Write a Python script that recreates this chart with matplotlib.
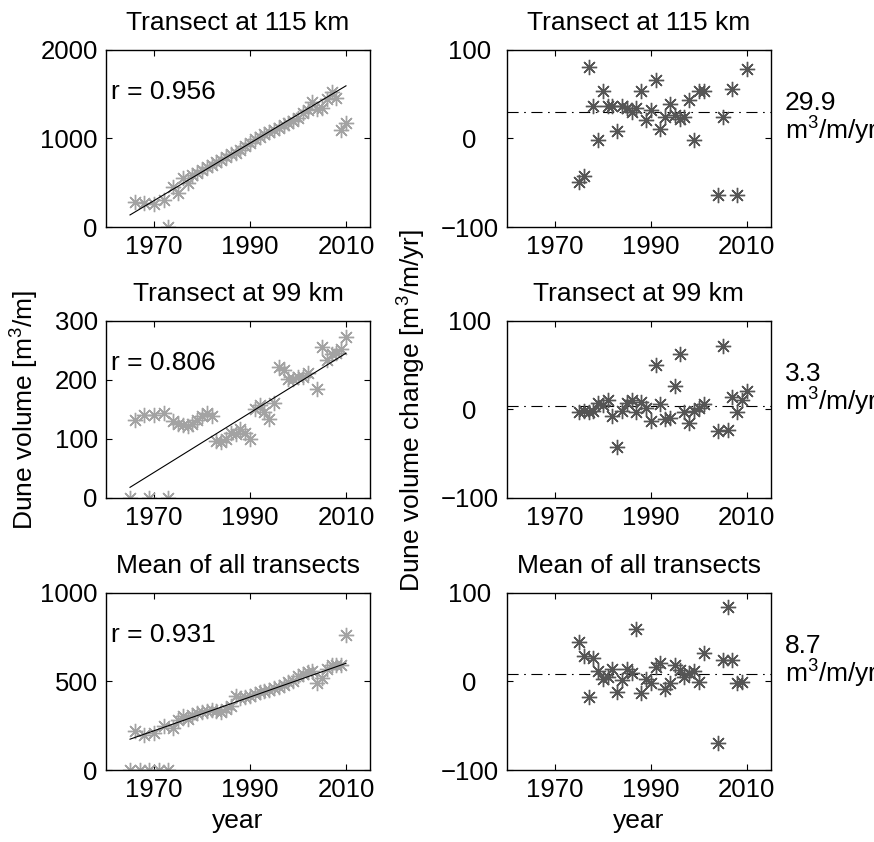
import matplotlib
matplotlib.use("Agg")
import matplotlib.pyplot as plt

plt.rcParams['font.family'] = ['Liberation Sans', 'DejaVu Sans']
plt.rcParams['font.size'] = 18.5
plt.rcParams['mathtext.default'] = 'regular'

# dune volume per transect [m3/m]
yrs_115 = [1966, 1968, 1970, 1972, 1973] + list(range(1974, 2011))
vol_115 = [286, 275, 260, 305, 0,
           455, 388, 550, 494, 590, 610, 640, 680, 700, 730, 760, 790, 820,
           840, 870, 910, 950, 990, 1020, 1050, 1070, 1100, 1120, 1150, 1170,
           1200, 1230, 1290, 1320, 1416, 1330, 1341, 1450, 1529, 1454, 1096, 1175]

yrs_99 = [1965, 1966, 1968, 1969, 1970, 1972, 1973] + list(range(1974, 2000)) \
    + [2000, 2001, 2002, 2004, 2005, 2006, 2007, 2008, 2009, 2010]
vol_99 = [0, 132, 141, 0, 140, 143, 0,
          130, 126, 124, 122, 126, 132, 139, 144, 139, 96, 94, 99, 110, 108,
          116, 110, 100, 150, 158, 146, 133, 160, 221, 217, 201, 201,
          204, 204, 212, 185, 256, 234, 243, 246, 252, 273]

yrs_mean = [1965, 1966, 1967, 1968, 1969, 1970, 1971, 1972, 1973] + list(range(1974, 2011))
vol_mean = [0, 218, 0, 199, 0, 208, 0, 246, 0,
            237, 284, 303, 290, 310, 320, 325, 335, 340, 335, 330, 345, 360,
            416, 405, 410, 420, 430, 440, 445, 450, 460, 470, 480, 495, 505,
            530, 540, 553, 560, 492, 520, 571, 590, 595, 590, 760]

# linear trend end points and correlation
trend_yrs = [1965, 2010]
trend_115 = [136, 1593]
trend_99 = [18, 245]
trend_mean = [174, 602]
r_vals = [0.956, 0.806, 0.931]

# yearly dune volume change [m3/m/yr]
dyrs_115 = list(range(1975, 2002)) + [2004, 2005, 2007, 2008, 2010]
dvol_115 = [-49, -42, 80, 36, -2, 54, 36, 37, 8, 36, 34, 30, 34, 54, 21,
            32, 66, 11, 24, 39, 26, 22, 24, 43, -2, 54, 54,
            -64, 24, 56, -64, 78]
dyrs_99 = list(range(1975, 2002)) + [2004, 2005, 2006, 2007, 2008, 2009, 2010]
dvol_99 = [-3, -2, -3, -2, 7, 5, 10, -7, -43, -2, 7, 10, -3, 8, 1, -13, 50,
           6, -11, -10, 26, 63, -3, -15, -2, 2, 6,
           -24, 71, -23, 14, -3, 10, 21]
dyrs_mean = list(range(1975, 2002)) + [2004, 2005, 2006, 2007, 2008, 2009]
dvol_mean = [44, 29, -18, 26, 12, 3, 5, 14, -12, 2, 14, 10, 59, -13, 3, -2,
             16, 21, -9, -2, 18, 13, 5, 10, 12, -1, 32,
             -70, 24, 84, 24, -2, -1]
mean_rates = [29.9, 3.3, 8.7]

titles = ['Transect at 115 km', 'Transect at 99 km', 'Mean of all transects']
vol_sets = [(yrs_115, vol_115, trend_115, [0, 2000], [0, 1000, 2000]),
            (yrs_99, vol_99, trend_99, [0, 300], [0, 100, 200, 300]),
            (yrs_mean, vol_mean, trend_mean, [0, 1000], [0, 500, 1000])]
chg_sets = [(dyrs_115, dvol_115), (dyrs_99, dvol_99), (dyrs_mean, dvol_mean)]

star = (8, 2, 0)  # eight-armed asterisk

fig = plt.figure(figsize=(8.74, 8.42), dpi=100)
lefts = [0.1213, 0.580]
bottoms = [0.7304, 0.4086, 0.0855]
w, h = 0.302, 0.2105


def style(ax):
    ax.set_xlim(1960, 2015)
    ax.set_xticks([1970, 1990, 2010])
    ax.tick_params(direction='in', top=True, right=True, length=4, width=0.8, pad=6)
    for s in ax.spines.values():
        s.set_linewidth(1.0)


for i in range(3):
    yrs, vol, trend, ylim, yticks = vol_sets[i]
    ax = fig.add_axes([lefts[0], bottoms[i], w, h])
    ax.plot(yrs, vol, ls='none', marker=star, ms=11, mew=1.0, color='#a3a3a3')
    ax.plot(trend_yrs, trend, color='black', lw=0.8)
    ax.set_ylim(ylim)
    ax.set_yticks(yticks)
    style(ax)
    ax.set_title(titles[i], pad=14, fontsize=19)
    ax.text(0.02, 0.76, 'r = %.3f' % r_vals[i], transform=ax.transAxes,
            va='center', ha='left', fontsize=19)
    if i == 2:
        ax.set_xlabel('year', labelpad=5, fontsize=19)

    yrs, chg = chg_sets[i]
    ax2 = fig.add_axes([lefts[1], bottoms[i], w, h])
    ax2.axhline(mean_rates[i], color='black', lw=0.8, ls=(0, (10, 5, 1.5, 5)))
    ax2.plot(yrs, chg, ls='none', marker=star, ms=11, mew=1.0, color='#555555')
    ax2.set_ylim(-100, 100)
    ax2.set_yticks([-100, 0, 100])
    ax2.set_yticklabels(['\u2212100', '0', '100'])
    style(ax2)
    ax2.tick_params(axis='y', pad=27)
    for lab in ax2.get_yticklabels():
        lab.set_horizontalalignment('center')
    ax2.set_title(titles[i], pad=14, fontsize=19)
    ax2.text(1.052, 0.70, '%.1f' % mean_rates[i], transform=ax2.transAxes,
             va='center', ha='left', clip_on=False, fontsize=19)
    ax2.text(1.052, 0.54, 'm$^3$/m/yr', transform=ax2.transAxes,
             va='center', ha='left', clip_on=False, fontsize=19)
    if i == 2:
        ax2.set_xlabel('year', labelpad=5, fontsize=19)

fig.text(25 / 874, 1 - 410 / 842, 'Dune volume [m$^3$/m]', rotation=90,
         ha='center', va='center', fontsize=19)
fig.text(412 / 874, 1 - 410 / 842, 'Dune volume change [m$^3$/m/yr]', rotation=90,
         ha='center', va='center', fontsize=19)

fig.savefig('out.png', dpi=100)
